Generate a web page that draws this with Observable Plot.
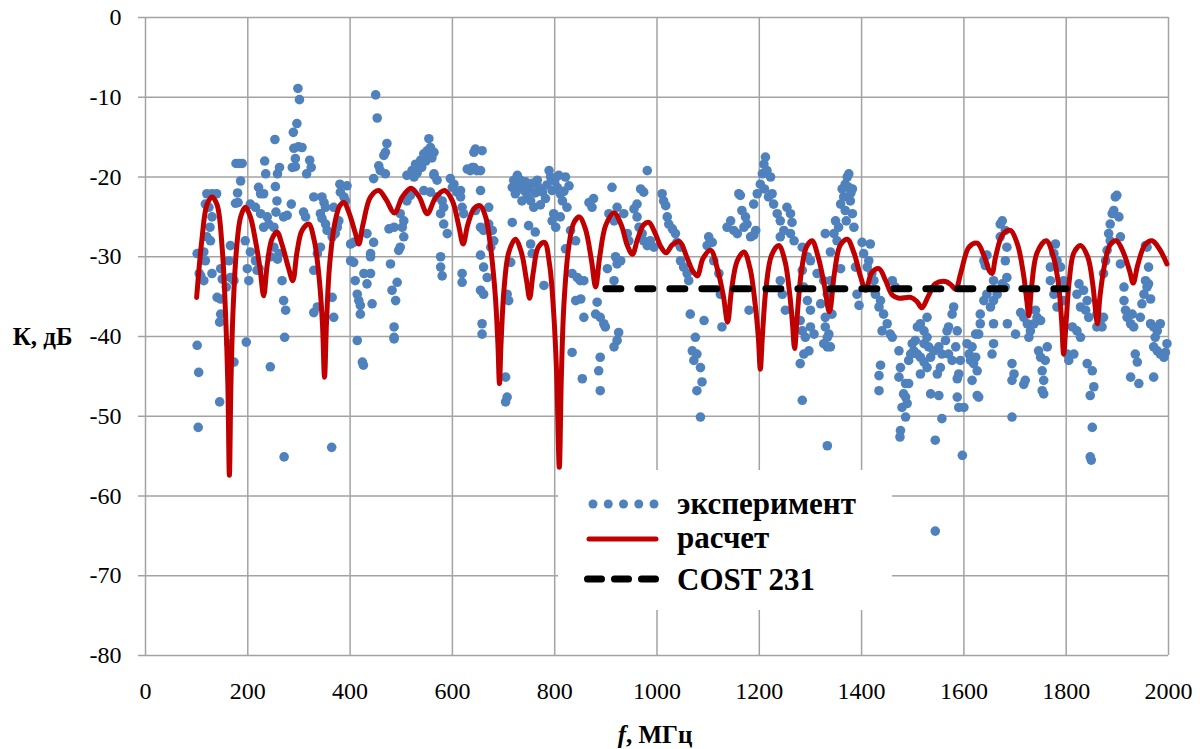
<!DOCTYPE html>
<html>
<head>
<meta charset="utf-8">
<script src="https://cdn.jsdelivr.net/npm/d3@7"></script>
<script src="https://cdn.jsdelivr.net/npm/@observablehq/plot@0.6"></script>
<style>
  body { margin: 0; background: #fff; }
  #wrap { position: relative; width: 1203px; height: 749px; }
  #wrap svg text { font-family: "Liberation Serif", "Times New Roman", Tinos, "Noto Serif", "DejaVu Serif", FreeSerif, Times, serif; }
  #legend { position: absolute; left: 558px; top: 470px; width: 334px; height: 140px; background: #fff; }
  #legend text { font-weight: bold; font-size: 31px; fill: #000; }
</style>
</head>
<body>
<div id="wrap"></div>
<script>
// ---- tick values ----
const xTicks = [0, 200, 400, 600, 800, 1000, 1200, 1400, 1600, 1800, 2000];
const yTicks = [0, -10, -20, -30, -40, -50, -60, -70, -80];

// ---- legend labels ----
const seriesNames = ["эксперимент", "расчет", "COST 231"];

// ---- "эксперимент" : measured points [f MHz, K dB] ----
const experiment = [
[298,-8.9],[301,-10.3],[296,-13.3],[289,-14.4],[450,-9.7],[453,-12.6],[253,-15.3],
[290,-16.4],[299,-16.2],[306,-16.3],[293,-17.7],[287,-18.8],[293,-18.7],
[321,-17.9],[324,-18.8],[315,-19.6],[233,-18],[235,-19.6],[177,-18.3],[183,-18.3],[189,-18.3],
[262,-18.8],[258,-19.6],[186,-20.5],[180,-22],[181,-23.2],[176,-23.3],
[472,-15.8],[469,-16.9],[466,-17.3],[456,-18.6],[459,-19.2],[446,-20.2],[469,-19.6],
[511,-19.8],[521,-19.2],[528,-18.4],[538,-17.9],[544,-17.1],[551,-16.7],[557,-16.3],[564,-16.9],[554,-15.2],
[525,-20],[531,-19.5],[540,-18.8],[548,-18],[560,-17.6],
[645,-16.5],[642,-16.9],[629,-19],[639,-18.8],[648,-19.2],
[564,-19.8],[570,-20.4],[596,-20.2],[603,-20.9],[616,-21.7],[655,-21.7],
[120,-22.1],[130,-22.1],[139,-22.1],[117,-23.4],[124,-23.8],[130,-25],[126,-26.3],[120,-27.5],[127,-28],
[221,-21.3],[225,-22.1],[231,-22.1],[254,-21.2],[257,-23],
[205,-23.4],[215,-23.8],[225,-24.6],[238,-25],[241,-25.9],[251,-26.3],[231,-26.3],[255,-24.4],
[285,-23.4],[277,-24.8],[270,-25],[309,-24.4],[313,-25],
[329,-22.5],[345,-22.5],[349,-23.2],[352,-23.8],[342,-24.6],[345,-25.2],[352,-25.9],[355,-26.7],
[368,-23.8],[375,-26.3],[371,-27.1],[365,-27.5],[378,-25.5],
[380,-20.9],[394,-21.1],[381,-21.9],[388,-22.5],[391,-23],
[401,-28.4],[407,-28.2],[401,-30.5],[407,-30.7],
[433,-27.1],[446,-28.2],[440,-29.6],
[476,-26.5],[486,-26.3],[498,-24.6],[505,-25.5],[502,-26.3],[505,-27.5],[495,-29.2],[498,-28.8],
[511,-23],[518,-22.3],[544,-21.7],[557,-21.9],[564,-19.6],
[570,-22.5],[580,-23],[583,-23.8],[577,-24.6],[583,-25.9],[590,-27.1],
[600,-21.3],[609,-21.9],[616,-22.5],[619,-23.8],[622,-24.6],
[635,-19.2],[642,-18.8],
[645,-24.2],[655,-26.3],[661,-26.7],[671,-23.8],
[101,-29.6],[104,-29.6],[114,-29.4],[117,-30.5],
[108,-32.4],[114,-33],[105,-32.1],[130,-32.1],[147,-31.5],[150,-32.8],[140,-35.1],[147,-35.3],[147,-37.2],[145,-38.2],
[166,-28.6],[163,-30.5],[166,-32.6],[158,-33.8],[170,-32.6],[173,-33],
[195,-28],[205,-29.4],[199,-31.5],[202,-33],[218,-31.7],[215,-30.5],[222,-31.5],
[244,-30],[251,-28.8],[258,-30.3],[261,-29.6],
[267,-33],[270,-35.5],[274,-36.7],
[329,-31.7],[336,-29.6],[342,-28.8],[329,-37],[336,-36.3],
[365,-35.1],[368,-37.6],
[410,-33],[414,-34.7],[417,-35.5],[420,-36.1],[420,-37.2],
[427,-32.1],[433,-33.4],[440,-32.1],[443,-35.9],[440,-30],
[479,-30.9],[482,-34.2],[489,-35.5],[486,-38.8],[486,-40.1],[492,-33.2],
[577,-30],[577,-31.3],[580,-32.4],[619,-32.1],[619,-33.2],
[655,-29.8],[661,-31.3],[668,-32.6],[655,-34.2],[661,-34.7],[658,-38.4],[658,-39.7],
[101,-41.1],[104,-44.5],[103,-51.4],[145,-48.2],[163,-40.9],[173,-43.2],[197,-40.7],[244,-43.8],[272,-40.1],[271,-55.1],[364,-53.9],[414,-40.5],[424,-43.2],[426,-43.6],[486,-40.3],
[658,-16.7],[655,-19.2],
[720,-20.4],[727,-19.8],[733,-20.4],[730,-21.3],[740,-21.7],[717,-21.3],[723,-22.1],[746,-22.5],[753,-23],[759,-23.8],[766,-20.4],[769,-21.3],[776,-21.9],[782,-22.7],[789,-19.2],[792,-20],[795,-21.7],[805,-21.3],[811,-22.1],[815,-23],[821,-20],[828,-21.1],[824,-23.8],[811,-25],[798,-24.6],[795,-25.5],[802,-26.3],
[736,-23],[743,-20.6],[750,-21.5],[762,-22],[772,-23.5],[785,-21],[800,-20.5],[808,-19.8],[818,-21.8],[756,-20.8],
[717,-25.7],[671,-25.9],[678,-26.7],[681,-28],[675,-28.8],
[710,-35.5],[707,-34.7],[704,-45.1],[707,-47.6],[704,-48.2],[714,-30.7],
[753,-28.4],[756,-29.6],[749,-26.1],[779,-33.6],[762,-26.9],
[821,-29],[831,-26.7],[841,-28],[834,-32.1],[844,-32.6],[850,-33],[857,-33],[841,-35.5],[851,-35.3],[857,-37.6],[834,-42],[854,-45.3],
[867,-23.2],[873,-23.8],[876,-22.7],[880,-32.1],[883,-35.7],[880,-37.2],[889,-37.6],[896,-38.4],[899,-38.8],[889,-42.6],[886,-44.3],[889,-46.8],[903,-31.5],
[912,-21.3],[906,-24.6],[916,-25.5],[922,-23.8],[919,-30],[922,-30.9],[929,-30.5],[916,-33],[925,-39.5],[922,-40.5],[916,-41.3],
[935,-24.6],[942,-27.1],[945,-28],[955,-24],[961,-25],[965,-26.3],[971,-27.1],[974,-28],[968,-21.5],[974,-21.9],[981,-19.2],[961,-23.4],
[981,-28.6],[987,-28],[994,-28.8],[1010,-22.1],[1013,-23],[1017,-23.6],[1020,-25],[1023,-25.9],[1030,-26.5],[1036,-27.1],[1039,-28.2],[1046,-28.8],
[1046,-30.5],[1052,-31.3],[1059,-32.1],[1062,-33],
[1065,-37.2],[1075,-40.1],[1069,-41.8],[1072,-43],[1078,-42.2],[1085,-43.9],[1078,-46.8],[1088,-45.7],[1085,-50.1],[1092,-38],
[1101,-27.5],[1108,-28.2],[1098,-28.6],[1111,-30.5],[1121,-32.1],[1124,-34.7],[1127,-38.8],
[1137,-26.3],[1144,-25.5],[1150,-26.7],[1157,-27.1],[1160,-22.1],[1163,-22.3],[1166,-24.2],[1173,-25],[1176,-25.9],[1170,-26.3],
[1183,-27.5],[1189,-27.3],[1193,-26.7],[1180,-36.7],
[1189,-23.4],[1196,-22.1],[1202,-20.9],[1206,-19.6],[1209,-18.4],[1212,-17.5],[1215,-19.2],[1222,-20],[1225,-22.1],[1210,-21.5],[1218,-22.5],
[1228,-23.4],[1235,-24.6],[1241,-25.5],[1241,-27.5],[1248,-26.7],[1261,-27.1],[1268,-28],[1254,-23.8],[1261,-24.6],[1264,-25.7],
[1241,-33],[1245,-34.7],[1251,-36.7],
[1284,-28.8],[1294,-30],[1300,-30.5],[1284,-31.7],[1287,-33.8],[1294,-35.5],[1300,-36.7],
[1280,-38],[1284,-39.3],[1290,-40.1],[1300,-38.8],[1307,-39.7],[1297,-41.8],[1287,-42.2],[1280,-43.4],[1284,-48],
[1313,-32.1],[1326,-33],[1333,-34.7],[1320,-35.9],[1329,-37.6],[1336,-39.7],[1333,-41.3],[1333,-53.7],
[1372,-20],[1368,-20.9],[1375,-21.3],[1382,-21.5],[1365,-22.5],[1378,-23],[1359,-23.4],[1368,-24.2],[1382,-24.6],[1349,-25.5],[1355,-26.3],[1385,-26.3],[1346,-27.1],[1352,-28],
[1375,-19.6],[1379,-22],[1362,-21.5],[1370,-25.5],
[1329,-27.1],[1339,-29.4],[1359,-31.5],[1339,-33],[1342,-37.2],
[1329,-38.8],[1333,-40.1],[1339,-41.3],[1326,-40.9],
[1401,-28.2],[1417,-28.4],[1404,-29.6],[1414,-30.5],[1411,-31.3],[1420,-32.1],[1424,-33],
[1388,-31.3],[1391,-34.7],[1395,-36.1],
[1427,-34.7],[1434,-36.3],[1437,-35.5],
[1443,-37.2],[1450,-38.4],[1440,-39.3],[1456,-39.7],[1460,-40.1],
[1460,-33],[1466,-33.8],
[1473,-41.8],[1476,-43.9],[1473,-45.1],[1482,-47.2],[1486,-47.6],[1479,-48.9],[1486,-45.9],[1492,-45.9],[1489,-48.4],[1486,-50.1],
[1476,-51.8],[1475,-52.6],
[1437,-43.6],[1434,-44.9],[1434,-46.8],
[1492,-43],[1496,-42.2],
[1499,-40.9],[1505,-40.5],[1509,-38.8],[1515,-38.4],[1522,-39.3],[1528,-37.6],
[1502,-41.8],[1509,-42.2],[1515,-42.6],[1522,-40.9],[1528,-40.1],[1531,-41.3],[1535,-42.6],[1541,-41.8],[1551,-41.3],[1557,-42.2],
[1515,-44.7],[1522,-43.2],[1528,-43.9],[1535,-47.2],[1551,-47.4],[1548,-44.7],[1554,-43.9],[1557,-50.3],[1544,-53],
[1564,-40.5],[1567,-39.3],[1570,-38.8],[1577,-37.2],[1580,-36.3],
[1570,-42.2],[1577,-43],
[1587,-39.3],[1584,-41.3],[1587,-45.3],[1590,-44.7],[1593,-43],[1587,-47.6],[1590,-48.9],[1600,-48.9],[1597,-54.9],
[1606,-40.9],[1610,-42.2],[1616,-41.3],[1613,-43],[1619,-43.4],[1626,-44.3],[1616,-45.5],[1623,-42.6],
[1629,-39.7],[1632,-38.4],[1623,-39.7],
[1626,-47.4],[1629,-47.6],
[1632,-37.2],[1639,-35.5],[1645,-34.7],[1642,-31.1],[1639,-30.5],[1645,-29.8],
[1658,-40.9],[1655,-42.2],[1658,-38.4],[1652,-36.3],[1658,-35.5],[1665,-34.7],[1658,-33],
[1671,-25.9],[1675,-25.5],[1681,-26.7],[1671,-27.5],[1684,-28.8],[1681,-30.5],[1684,-32.6],[1681,-33.8],[1675,-33.4],
[1694,-43.4],[1698,-44.7],[1694,-45.5],[1694,-50.1],
[1685,-38.4],[1701,-39.7],
[1711,-37],[1717,-37.6],[1724,-38.4],[1730,-39.3],[1727,-40.1],[1737,-38.4],[1743,-37.6],[1750,-38],[1740,-36.7],
[1720,-45.5],[1717,-46],
[1746,-41.8],[1750,-42.6],[1753,-44.3],[1756,-45.5],[1753,-46.8],[1756,-47.2],
[1763,-41.3],[1759,-43],
[1769,-33],[1769,-31.3],[1776,-29.6],[1779,-28.4],[1782,-30.5],[1789,-31.3],[1795,-33],[1795,-35.5],
[1776,-34.7],[1782,-36.3],
[1802,-42.2],[1805,-43],[1815,-42.2],
[1812,-38.8],[1821,-39.3],[1828,-40.1],
[1821,-34.7],[1825,-33.4],[1834,-34.2],[1841,-35.5],[1828,-36.3],[1838,-36.7],[1844,-37.6],
[1841,-43.4],[1851,-44.3],[1854,-46.3],[1847,-47.4],
[1851,-51.4],[1847,-55.1],[1849,-55.5],
[1860,-37.2],[1867,-38],[1873,-37.6],[1870,-38.8],[1860,-38.8],
[1873,-32.1],[1877,-30.5],[1880,-29.2],[1883,-27.1],[1886,-25.9],[1890,-24.6],[1893,-24.2],[1896,-22.5],[1899,-22.3],[1886,-28],
[1903,-25],[1906,-27.5],[1906,-30.9],
[1913,-33.8],[1913,-35.5],[1916,-36.7],[1919,-37.6],[1926,-38.4],[1932,-38.8],[1929,-37.2],
[1926,-45.1],[1942,-45.9],[1935,-42.2],[1939,-43.2],
[1945,-37.6],[1948,-35.9],[1952,-34.7],[1958,-33.8],[1955,-33],[1961,-31.3],[1958,-28.8],[1955,-28.6],
[1961,-33.4],[1965,-35.3],
[1965,-38.4],[1971,-38.8],[1978,-39.3],[1984,-38.4],[1974,-40.1],
[1971,-45.1],
[1971,-41.3],[1978,-41.8],[1984,-42.2],[1991,-42.6],[1997,-40.9],[1994,-42],
[1544,-64.4]
];

// ---- "расчет" : calculated curve ----
const calcF = [100,110,120,130,140,150,157,161,164,167,171,178,186,195,205,215,224,231,238,247,257,267,280,288,296,306,319,330,340,346,350,354,360,370,380,388,398,410,417,425,440,456,470,487,502,519,535,551,567,585,600,612,621,630,642,654,665,675,684,689,692,695,701,710,723,735,745,751,758,768,780,790,798,804,809,813,818,827,837,848,860,872,880,888,900,916,930,942,952,962,974,984,996,1008,1018,1030,1044,1058,1070,1079,1090,1105,1118,1130,1138,1146,1157,1170,1182,1192,1198,1202,1206,1213,1224,1238,1250,1260,1265,1269,1274,1282,1292,1303,1315,1327,1337,1347,1358,1372,1385,1398,1408,1420,1434,1447,1460,1473,1496,1508,1518,1530,1544,1564,1576,1584,1594,1610,1626,1640,1650,1655,1662,1676,1691,1705,1716,1723,1727,1732,1743,1761,1775,1785,1791,1795,1800,1806,1815,1828,1842,1852,1857,1861,1866,1875,1886,1898,1912,1924,1931,1940,1954,1968,1982,1997];
const calcK = [-35.1,-28,-23.5,-22.5,-23.5,-29,-38,-46,-57.4,-46,-37,-29,-25,-23.8,-25,-28,-31.5,-34.9,-31,-27.8,-26.9,-28.5,-31.5,-33,-29.5,-26.7,-25.9,-28,-33,-38.5,-45.1,-38,-31,-25.8,-23.6,-23.2,-24.5,-27,-28.4,-26,-22.5,-21.7,-22.8,-24.5,-22.5,-21.4,-22.5,-24.6,-22.6,-21.7,-23,-26,-28.4,-26,-24,-23.6,-25,-29,-35,-41,-45.9,-41,-34,-29.5,-27.8,-29.5,-33,-35.2,-32,-28.8,-28.2,-31,-37,-45,-56.4,-45,-36,-29,-25.8,-25,-26.5,-30.5,-33.8,-30,-26,-24.5,-26,-28.6,-29.7,-27.8,-26,-25.7,-27,-28.8,-29.5,-28.5,-28.1,-30,-31.8,-32.4,-30.2,-29.2,-31.5,-35,-38.2,-34,-30.5,-29.4,-31.5,-36,-40,-44.1,-40,-34,-29.8,-28.6,-30.5,-35,-38.5,-41.5,-37.5,-32,-28.8,-28,-30,-33.5,-36.9,-32,-28.6,-27.8,-29.5,-32.5,-34.2,-32,-31.5,-33,-34.8,-35.2,-35.1,-35.6,-36.4,-35,-33.4,-33.1,-33.6,-34.1,-32,-28.8,-28.3,-30,-31.8,-32.1,-30,-27.2,-26.7,-28.5,-32,-35.5,-37.4,-34,-29.5,-28,-30,-33.5,-38,-42.2,-38,-33,-29.5,-28.6,-30,-33.5,-36.5,-38.4,-35,-31,-28.5,-28,-29.5,-31.8,-33.3,-31,-28.5,-28,-29,-30.9];

// ---- "COST 231" : model level ----
const costF = [900, 1800];
const costK = [-34, -34];

const expData = experiment.map(([f, k]) => ({f, k}));
const calcData = calcF.map((f, i) => ({f, k: calcK[i]}));
const costData = costF.map((f, i) => ({f, k: costK[i]}));

const gridColor = "#a3a3a3";
const serif = "'Liberation Serif', 'Times New Roman', Tinos, 'Noto Serif', 'DejaVu Serif', FreeSerif, Times, serif";

const chart = Plot.plot({
  width: 1203,
  height: 749,
  marginLeft: 145,
  marginRight: 35,
  marginTop: 17,
  marginBottom: 94,
  x: {domain: [0, 2000]},
  y: {domain: [-80, 0]},
  style: {fontFamily: serif, fontSize: "24px", color: "#000", background: "#fff", overflow: "visible"},
  marks: [
    Plot.gridX(xTicks, {stroke: gridColor, strokeOpacity: 1, strokeWidth: 1.5}),
    Plot.gridY(yTicks, {stroke: gridColor, strokeOpacity: 1, strokeWidth: 1.5}),
    Plot.dot(expData, {x: "f", y: "k", r: 4.8, fill: "#4F81BD", stroke: "none"}),
    Plot.line(calcData, {x: "f", y: "k", curve: "catmull-rom", stroke: "#C00000", strokeWidth: 5, strokeLinejoin: "round", strokeLinecap: "round"}),
    Plot.line(costData, {x: "f", y: "k", stroke: "#000", strokeWidth: 7, strokeDasharray: "15 17", strokeLinecap: "round"}),
    Plot.axisY(yTicks, {tickSize: 7, tickPadding: 17, stroke: gridColor, strokeWidth: 1.5, tickFormat: d => String(d), label: null, fill: "#000"}),
    Plot.axisX(xTicks, {tickSize: 0, tickPadding: 26, tickFormat: d => String(d), label: null, fill: "#000"}),
    Plot.text(["К, дБ"], {frameAnchor: "left", y: () => -40, dx: -73, textAnchor: "end", lineAnchor: "middle", fontWeight: "bold", fontSize: 25, fill: "#000"}),
    Plot.text(["f"], {frameAnchor: "bottom", dx: -31, dy: 87, textAnchor: "end", lineAnchor: "bottom", fontWeight: "bold", fontStyle: "italic", fontSize: 25, fill: "#000"}),
    Plot.text([", МГц"], {frameAnchor: "bottom", dx: -31, dy: 87, textAnchor: "start", lineAnchor: "bottom", fontWeight: "bold", fontSize: 25, fill: "#000"})
  ]
});

const wrap = document.getElementById("wrap");
wrap.appendChild(chart);

// ---- legend (inside plot area, white box) ----
const legend = document.createElement("div");
legend.id = "legend";
const lsvg = d3.create("svg").attr("width", 334).attr("height", 140);
const dotXs = d3.range(5).map(i => 35 + i * 15.25);
lsvg.selectAll("circle").data(dotXs).join("circle")
  .attr("cx", d => d).attr("cy", 34).attr("r", 4.5).attr("fill", "#4F81BD");
lsvg.append("line").attr("x1", 31).attr("x2", 98).attr("y1", 69).attr("y2", 69)
  .attr("stroke", "#C00000").attr("stroke-width", 5).attr("stroke-linecap", "round");
lsvg.append("line").attr("x1", 29.5).attr("x2", 97.5).attr("y1", 109).attr("y2", 109)
  .attr("stroke", "#000").attr("stroke-width", 7).attr("stroke-dasharray", "14 13").attr("stroke-linecap", "round");
const baselines = [44, 78, 120];
lsvg.selectAll("text").data(seriesNames).join("text")
  .attr("x", 119).attr("y", (d, i) => baselines[i]).text(d => d);
legend.appendChild(lsvg.node());
wrap.appendChild(legend);
</script>
</body>
</html>
